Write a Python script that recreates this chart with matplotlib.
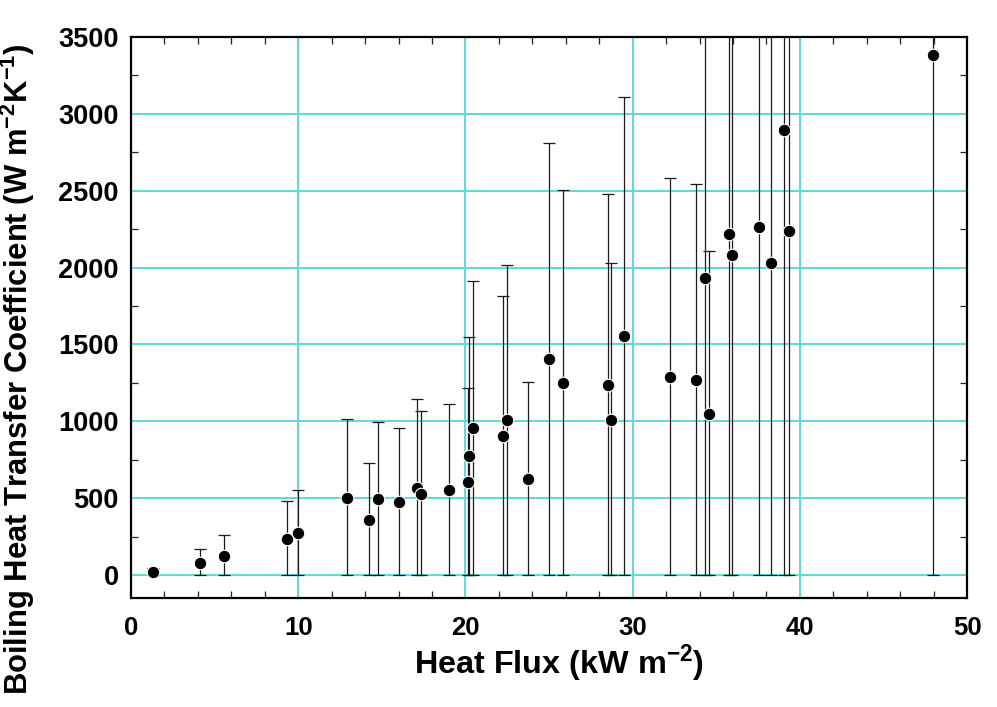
import matplotlib
matplotlib.use("Agg")
import matplotlib.pyplot as plt
import numpy as np
from matplotlib.ticker import MultipleLocator

# Heat flux (kW m^-2), boiling heat transfer coefficient (W m^-2 K^-1)
heat_flux = [1.32, 4.13, 5.58, 9.33, 9.97, 12.90, 14.23, 14.75, 16.01, 17.12,
             17.36, 19.02, 20.17, 20.23, 20.44, 22.25, 22.49, 23.73, 25.02, 25.85,
             28.55, 28.71, 29.47, 32.24, 33.81, 34.35, 34.55, 35.77, 35.93, 37.58,
             38.30, 39.07, 39.34, 47.99]
htc = [20, 78, 121, 236, 271, 500, 357, 491, 474, 565,
       526, 554, 602, 771, 953, 905, 1005, 623, 1403, 1249,
       1236, 1009, 1554, 1288, 1266, 1931, 1050, 2221, 2080, 2262,
       2032, 2898, 2240, 3381]
# upper bound of each uncertainty band; the lower bound is zero
htc_upper = [45, 169, 258, 482, 554, 1013, 725, 996, 959, 1143,
             1065, 1115, 1214, 1550, 1914, 1816, 2018, 1253, 2812, 2506,
             2480, 2028, 3112, 2582, 2545, 4200, 2106, 4200, 4200, 4200,
             4200, 4200, 4200, 4200]

x_ticks = [0, 10, 20, 30, 40, 50]
y_ticks = [0, 500, 1000, 1500, 2000, 2500, 3000, 3500]

plt.rcParams["mathtext.fontset"] = "custom"
plt.rcParams["mathtext.rm"] = "Liberation Sans:bold"
plt.rcParams["mathtext.bf"] = "Liberation Sans:bold"

x = np.array(heat_flux)
y = np.array(htc)
up = np.array(htc_upper)
yerr = np.vstack([y - 0.0, up - y])

fig = plt.figure(figsize=(9.97, 7.07), dpi=100)
ax = fig.add_axes([0.1314, 0.1542, 0.8386, 0.7935])

grid_c = "#5fd8dc"
for gx in x_ticks[1:-1]:
    ax.axvline(gx, color=grid_c, lw=1.4, zorder=0)
for gy in y_ticks[:-1]:
    ax.axhline(gy, color=grid_c, lw=1.4, zorder=0)

ax.errorbar(x, y, yerr=yerr, fmt="none", ecolor="#1a1a1a", elinewidth=0.9,
            capsize=4, capthick=0.9, zorder=2)
ax.plot(x, y, "o", color="black", markersize=9, markeredgecolor="white",
        markeredgewidth=0.8, zorder=3)

ax.set_xlim(0, 50)
ax.set_ylim(-150, 3500)
ax.set_xticks(x_ticks)
ax.set_yticks(y_ticks)
ax.xaxis.set_minor_locator(MultipleLocator(2))
ax.yaxis.set_minor_locator(MultipleLocator(250))
ax.tick_params(which="major", length=0)
ax.tick_params(axis="x", which="major", pad=13)
ax.tick_params(axis="y", which="major", pad=9)
ax.tick_params(which="minor", direction="in", length=5, width=0.9,
               top=True, right=True, color="#222222")

for lab in ax.get_xticklabels():
    lab.set_fontfamily("Liberation Sans")
    lab.set_fontweight("bold")
    lab.set_fontsize(18.5)
for lab in ax.get_yticklabels():
    lab.set_fontfamily("Liberation Sans")
    lab.set_fontweight("bold")
    lab.set_fontsize(19.5)

for s in ax.spines.values():
    s.set_linewidth(1.6)
    s.set_zorder(4)

ax.set_xlabel(r"Heat Flux (kW m$^{\mathregular{-2}}$)", fontfamily="Liberation Sans",
              fontweight="bold", fontsize=23.3)
ax.xaxis.set_label_coords(0.512, -0.08)
ax.set_ylabel(r"Boiling Heat Transfer Coefficient (W m$^{\mathregular{-2}}$K$^{\mathregular{-1}}$)",
              fontfamily="Liberation Sans", fontweight="bold", fontsize=22.3)
ax.yaxis.set_label_coords(-0.113, 0.408)

fig.savefig("out.png", dpi=100)
